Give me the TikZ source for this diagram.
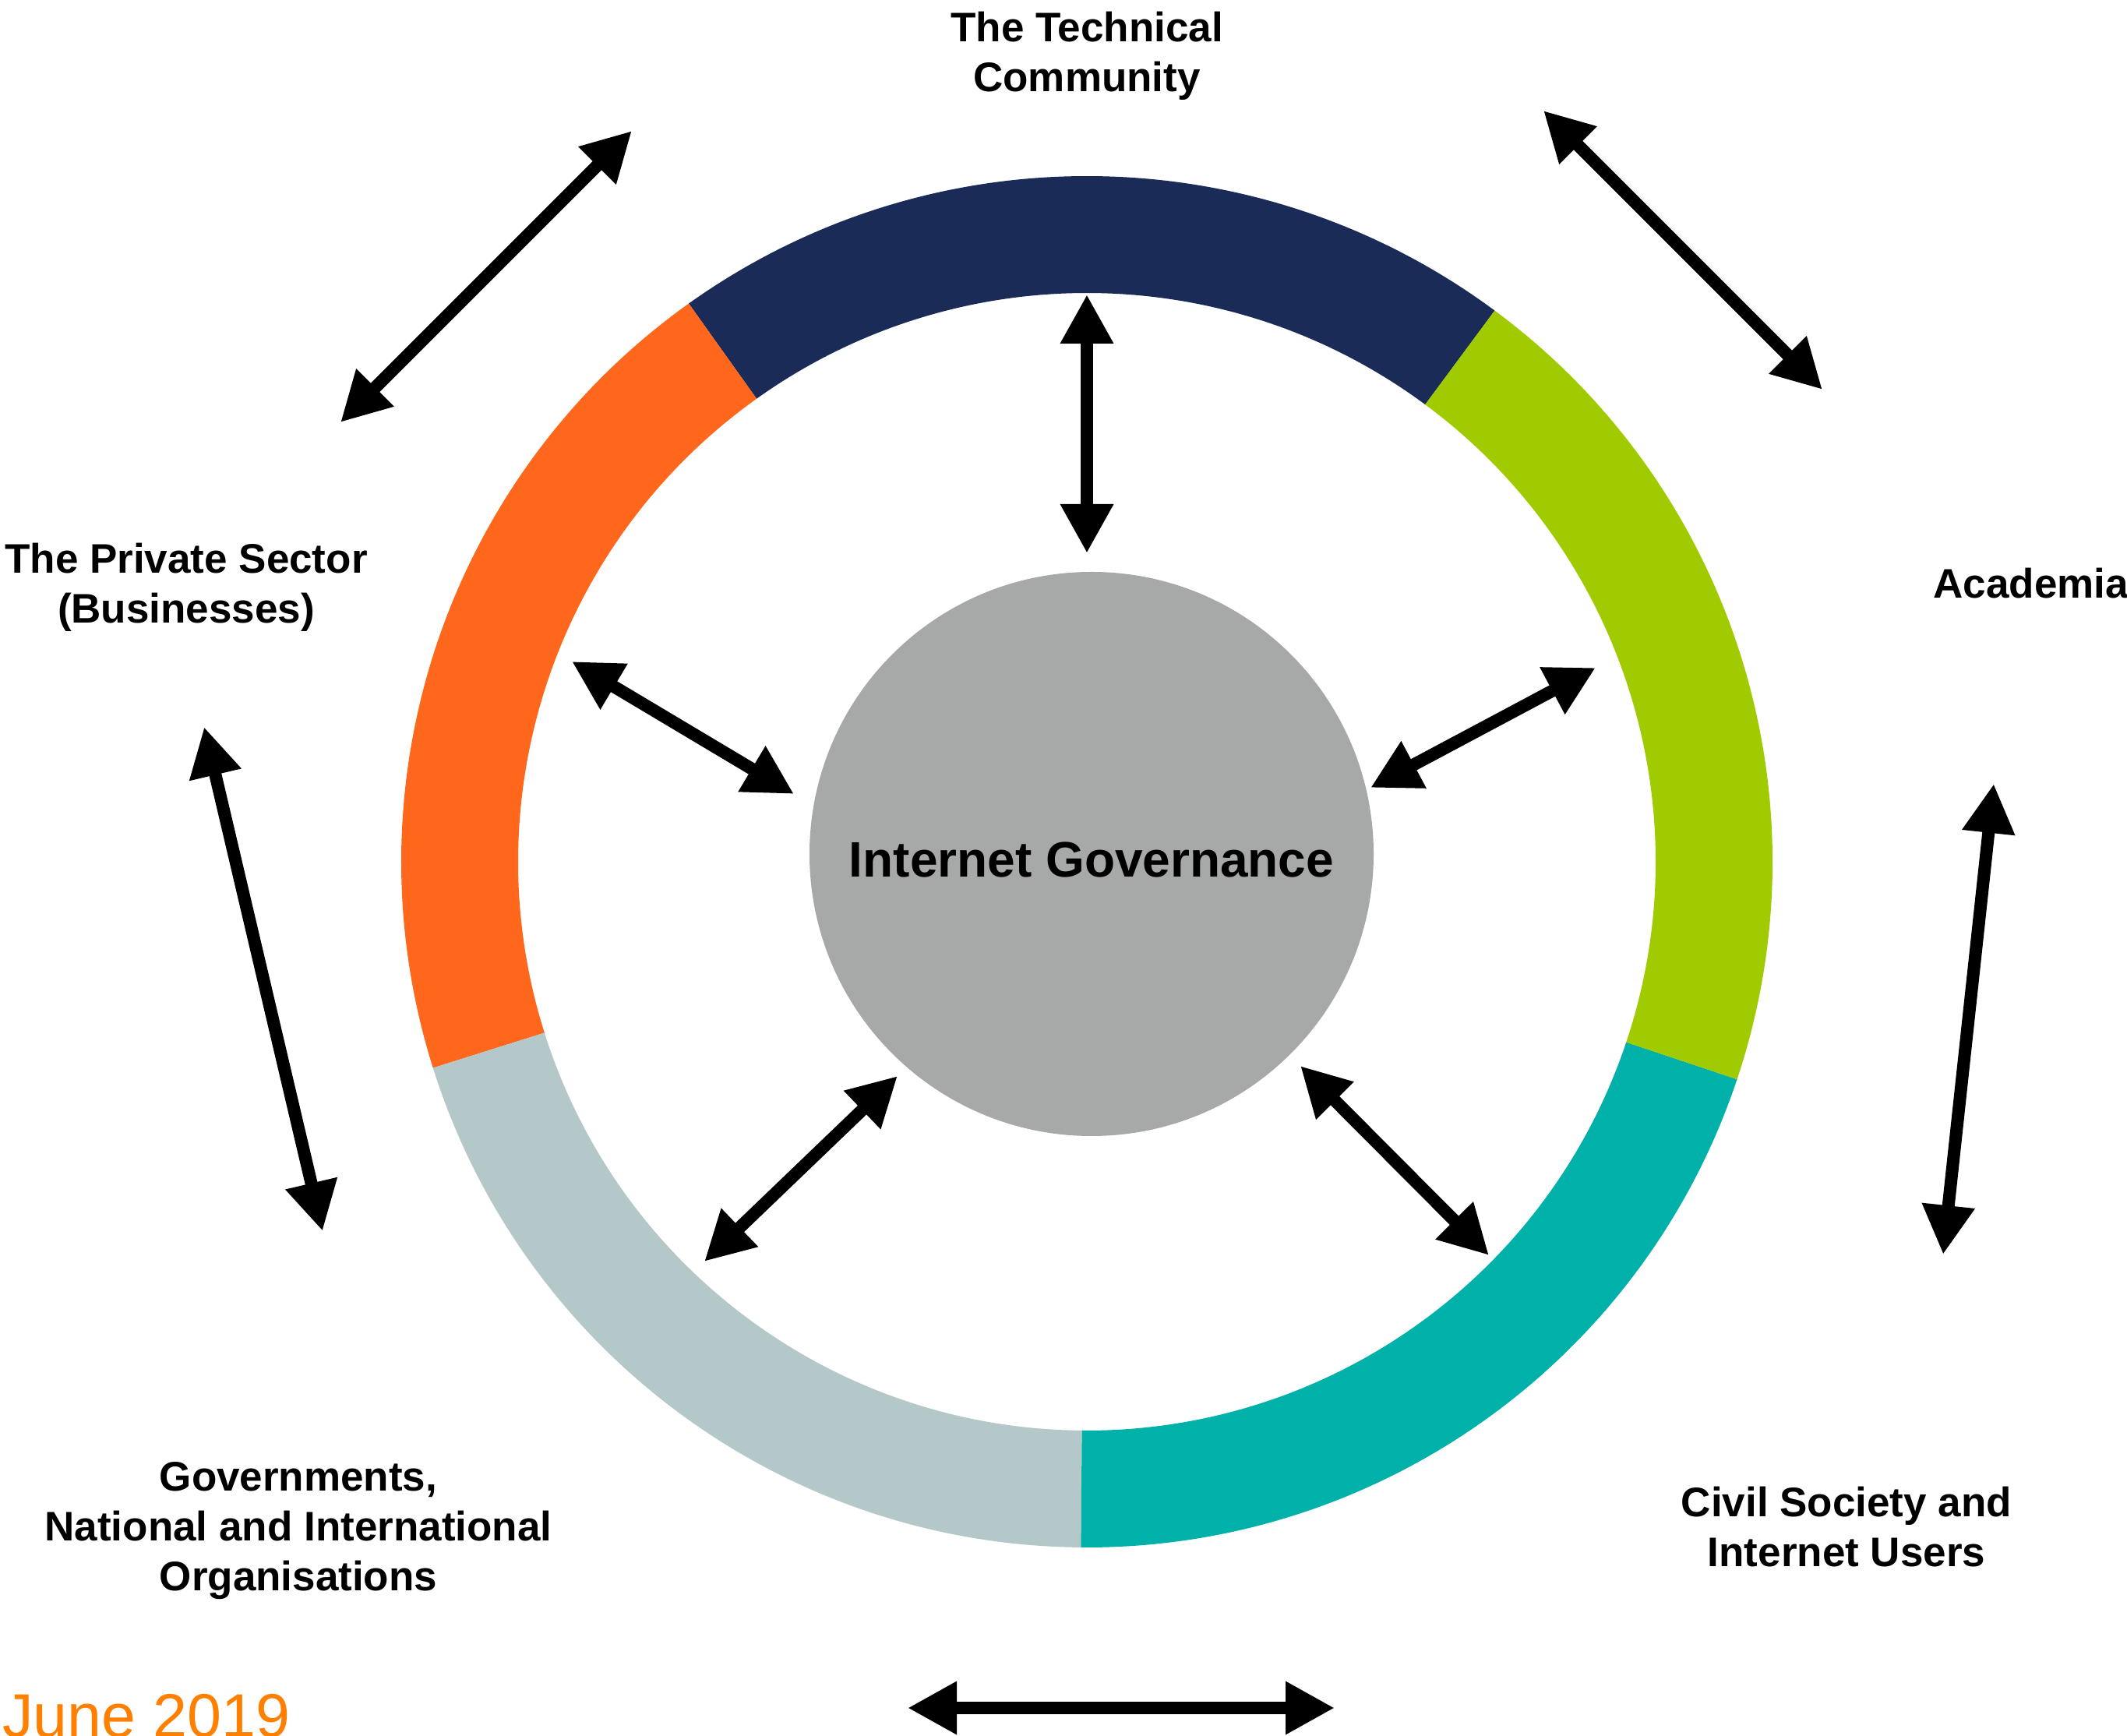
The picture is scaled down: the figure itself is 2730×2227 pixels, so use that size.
\documentclass[tikz,border=0pt]{standalone}
\usepackage{fontspec}
\setmainfont{Liberation Sans}
\usetikzlibrary{arrows.meta}
\definecolor{ringnavy}{RGB}{27,43,88}
\definecolor{ringorange}{RGB}{255,103,29}
\definecolor{ringgreen}{RGB}{159,203,0}
\definecolor{ringteal}{RGB}{0,177,170}
\definecolor{ringpale}{RGB}{180,200,201}
\definecolor{igray}{RGB}{166,169,168}
\definecolor{juneorange}{RGB}{255,128,0}
\begin{document}
\begin{tikzpicture}[x=1pt,y=1pt,
  biarr/.style={line width=16pt,{Triangle[length=63pt,width=64pt]}-{Triangle[length=63pt,width=64pt]}},
  lbl/.style={font=\fontsize{53}{64}\selectfont\bfseries,align=center,inner sep=0pt}]
\useasboundingbox (0,0) rectangle (2730,2227);
\fill[white] (0,0) rectangle (2730,2227);
% ring segments
\begin{scope}[shift={(1395,1121)}]
\fill[ringnavy] (53.5:880) arc[start angle=53.5,end angle=125.5,radius=880] -- (125.5:730) arc[start angle=125.5,end angle=53.5,radius=730] -- cycle;
\fill[ringorange] (125.5:880) arc[start angle=125.5,end angle=197.5,radius=880] -- (197.5:730) arc[start angle=197.5,end angle=125.5,radius=730] -- cycle;
\fill[ringpale] (197.5:880) arc[start angle=197.5,end angle=269.5,radius=880] -- (269.5:730) arc[start angle=269.5,end angle=197.5,radius=730] -- cycle;
\fill[ringteal] (269.5:880) arc[start angle=269.5,end angle=341.5,radius=880] -- (341.5:730) arc[start angle=341.5,end angle=269.5,radius=730] -- cycle;
\fill[ringgreen] (-18.5:880) arc[start angle=-18.5,end angle=53.5,radius=880] -- (53.5:730) arc[start angle=53.5,end angle=-18.5,radius=730] -- cycle;
\end{scope}
% centre
\node[circle,fill=igray,minimum size=724pt,inner sep=0pt] (ig) at (1401,1131) {};
\node[font=\fontsize{64}{77}\selectfont\bfseries,anchor=base,inner sep=0pt] (igt) at (1401,1101) {Internet Governance};
% labels
\node[lbl] (tech) at (1395,2155) {The Technical\\Community};
\node[lbl] (priv) at (239,1473) {The Private Sector\\(Businesses)};
\node[lbl,anchor=base east] (acad) at (2732,1459) {Academia};
\node[lbl] (gov) at (383,262) {Governments,\\National and International\\Organisations};
\node[lbl] (civ) at (2370,267) {Civil Society and\\Internet Users};
\node[font=\fontsize{79}{95}\selectfont,text=juneorange,anchor=base west,inner sep=0pt] (june) at (3,-2) {June 2019};
% arrow end points
\coordinate (t1) at (1395,1849); \coordinate (t2) at (1395,1517);
\coordinate (ul1) at (811,2059); \coordinate (ul2) at (437,1685);
\coordinate (ur1) at (1981,2085); \coordinate (ur2) at (2339,1727);
\coordinate (l1) at (262,1294); \coordinate (l2) at (414,647);
\coordinate (r1) at (2559,1221); \coordinate (r2) at (2494,617);
\coordinate (b1) at (1165,35); \coordinate (b2) at (1713,35);
\coordinate (iul1) at (734,1378); \coordinate (iul2) at (1019,1208);
\coordinate (iur1) at (2048,1370); \coordinate (iur2) at (1759,1216);
\coordinate (ill1) at (1152,846); \coordinate (ill2) at (904,608);
\coordinate (ilr1) at (1669,859); \coordinate (ilr2) at (1911,616);
% arrows
\draw[biarr] (t1) -- (t2);
\draw[biarr] (ul1) -- (ul2);
\draw[biarr] (ur1) -- (ur2);
\draw[biarr] (l1) -- (l2);
\draw[biarr] (r1) -- (r2);
\draw[biarr] (b1) -- (b2);
\draw[biarr] (iul1) -- (iul2);
\draw[biarr] (iur1) -- (iur2);
\draw[biarr] (ill1) -- (ill2);
\draw[biarr] (ilr1) -- (ilr2);
\end{tikzpicture}
\end{document}
